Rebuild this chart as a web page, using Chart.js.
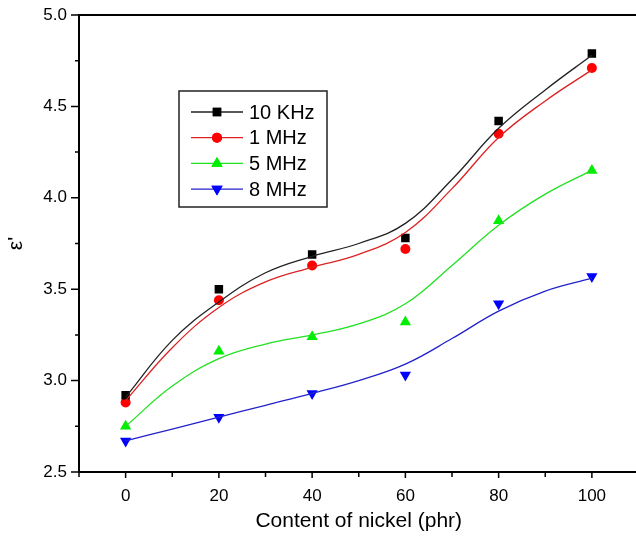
<!DOCTYPE html>
<html lang="en">
<head>
<meta charset="UTF-8">
<title>Dielectric constant vs nickel content</title>
<script src="https://cdn.jsdelivr.net/npm/chart.js"></script>
<style>
    body { margin: 0; background: #fff; overflow: hidden; }
    #wrap { width: 645px; height: 536px; }
</style>
</head>
<body>
<div id="wrap"><canvas id="chart"></canvas></div>
<script>
// measured points
const nickel = [0, 20, 40, 60, 80, 100];
const eps10k = [2.92, 3.50, 3.69, 3.78, 4.42, 4.79];
const eps1M  = [2.88, 3.44, 3.63, 3.72, 4.35, 4.71];
const eps5M  = [2.75, 3.16, 3.24, 3.32, 3.875, 4.15];
const eps8M  = [2.67, 2.80, 2.93, 3.03, 3.42, 3.57];

// fitted curves
const fitX    = [0, 10, 20, 30, 40, 50, 60, 70, 80, 90, 100];
const fit10k  = [2.91, 3.22, 3.43, 3.59, 3.68, 3.75, 3.86, 4.10, 4.38, 4.59, 4.78];
const fit1M   = [2.89, 3.18, 3.40, 3.54, 3.62, 3.69, 3.81, 4.05, 4.33, 4.53, 4.70];
const fit5M   = [2.75, 2.97, 3.12, 3.20, 3.25, 3.31, 3.42, 3.63, 3.85, 4.02, 4.15];
const fit8M   = [2.67, 2.735, 2.80, 2.865, 2.93, 3.00, 3.09, 3.23, 3.38, 3.49, 3.56];

const seriesNames = ['10 KHz', '1 MHz', '5 MHz', '8 MHz'];

const FONT = 'Liberation Sans, Arial, sans-serif';

function pts(xs, ys) { return xs.map((x, i) => ({ x: x, y: ys[i] })); }

const styles = [
    { color: '#000000', line: '#222222', style: 'rect', r: 6, rot: 0 },
    { color: '#ff0000', line: '#dd2222', style: 'circle', r: 5, rot: 0 },
    { color: '#00ee00', line: '#22e022', style: 'triangle', r: 6.5, rot: 0 },
    { color: '#0000ff', line: '#2222cc', style: 'triangle', r: 6.5, rot: 180 }
];
const pointSets = [eps10k, eps1M, eps5M, eps8M];
const fitSets = [fit10k, fit1M, fit5M, fit8M];

const datasets = [];
fitSets.forEach((f, i) => {
    datasets.push({
        label: seriesNames[i] + ' fit',
        data: pts(fitX, f),
        showLine: true,
        borderColor: styles[i].line,
        borderWidth: 1.3,
        pointRadius: 0,
        tension: 0.4,
        fill: false
    });
});
pointSets.forEach((p, i) => {
    datasets.push({
        label: seriesNames[i],
        data: pts(nickel, p),
        showLine: false,
        pointStyle: styles[i].style,
        pointRotation: styles[i].rot,
        pointRadius: styles[i].r,
        pointBackgroundColor: styles[i].color,
        pointBorderColor: styles[i].color,
        pointBorderWidth: 0
    });
});

// frame, outward ticks and boxed legend
const framePlugin = {
    id: 'frame',
    afterDraw(chart) {
        const ctx = chart.ctx;
        const a = chart.chartArea;
        const xs = chart.scales.x, ys = chart.scales.y;
        ctx.save();
        ctx.strokeStyle = '#000';
        ctx.lineWidth = 2;
        ctx.strokeRect(a.left, a.top, a.right - a.left, a.bottom - a.top);

        ctx.lineWidth = 1.5;
        ctx.beginPath();
        for (let v = -10; v <= 110; v += 10) {
            const px = xs.getPixelForValue(v);
            ctx.moveTo(px, a.bottom);
            ctx.lineTo(px, a.bottom + (v % 20 === 0 ? 6 : 5));
        }
        for (let k = 0; k <= 10; k++) {
            const v = 2.5 + k * 0.25;
            const py = ys.getPixelForValue(v);
            ctx.moveTo(a.left, py);
            ctx.lineTo(a.left - (k % 2 === 0 ? 8 : 4), py);
        }
        ctx.stroke();

        // legend
        const bx = 179, by = 91, bw = 148, bh = 116;
        ctx.lineWidth = 1.5;
        ctx.strokeStyle = '#222';
        ctx.strokeRect(bx, by, bw, bh);
        ctx.font = '20px ' + FONT;
        ctx.textBaseline = 'middle';
        ctx.fillStyle = '#000';
        seriesNames.forEach((name, i) => {
            const y = 112 + i * 25.7;
            const s = styles[i];
            ctx.strokeStyle = s.line;
            ctx.lineWidth = 1.3;
            ctx.beginPath();
            ctx.moveTo(191, y);
            ctx.lineTo(243, y);
            ctx.stroke();
            ctx.fillStyle = s.color;
            ctx.strokeStyle = s.color;
            Chart.helpers.drawPoint(ctx, { pointStyle: s.style, rotation: s.rot, radius: s.r, borderWidth: 0 }, 217, y);
            ctx.fill();
            ctx.fillStyle = '#000';
            ctx.fillText(name, 249, y + 1);
        });
        ctx.restore();
    }
};

function noPad(s) {
    s.paddingTop = 0; s.paddingBottom = 0; s.paddingLeft = 0; s.paddingRight = 0;
}

new Chart(document.getElementById('chart'), {
    type: 'scatter',
    data: { datasets: datasets },
    options: {
        responsive: true,
        maintainAspectRatio: false,
        animation: false,
        layout: { padding: { top: 15, right: 4, left: 0, bottom: 0 } },
        plugins: { legend: { display: false }, tooltip: { enabled: false } },
        scales: {
            x: {
                type: 'linear',
                min: -10,
                max: 110,
                afterFit(s) { s.height = 64; noPad(s); },
                afterBuildTicks(s) { s.ticks = nickel.map(v => ({ value: v })); },
                grid: { display: false, drawTicks: false },
                border: { display: false },
                ticks: { color: '#000', padding: 14, font: { family: FONT, size: 17 } },
                title: {
                    display: true,
                    text: 'Content of nickel (phr)',
                    color: '#000',
                    font: { family: FONT, size: 21 },
                    padding: { top: 0, bottom: 2 }
                }
            },
            y: {
                min: 2.5,
                max: 5.0,
                afterFit(s) { s.width = 79; noPad(s); },
                grid: { display: false, drawTicks: false },
                border: { display: false },
                ticks: {
                    stepSize: 0.5,
                    color: '#000',
                    padding: 12,
                    font: { family: FONT, size: 17 },
                    callback: v => v.toFixed(1)
                },
                title: {
                    display: true,
                    text: "ε'",
                    color: '#000',
                    font: { family: FONT, size: 21 },
                    padding: { top: 4, bottom: 0 }
                }
            }
        }
    },
    plugins: [framePlugin]
});
</script>
</body>
</html>
